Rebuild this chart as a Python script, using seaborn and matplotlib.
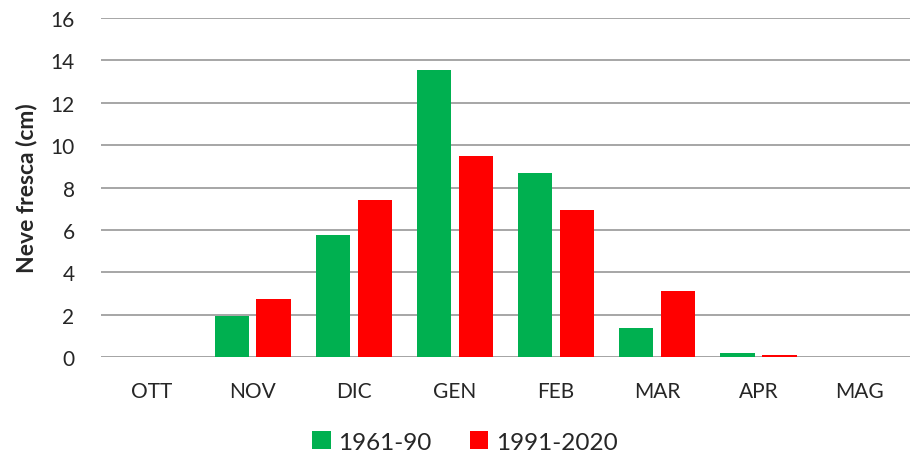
import pandas as pd
import matplotlib.pyplot as plt
import seaborn as sns

months = ["OTT", "NOV", "DIC", "GEN", "FEB", "MAR", "APR", "MAG"]
period_old = [0.0, 1.93, 5.78, 13.55, 8.69, 1.37, 0.20, 0.0]
period_new = [0.0, 2.74, 7.40, 9.51, 6.96, 3.11, 0.09, 0.0]
series_names = ["1961-90", "1991-2020"]
colors = ["#00B050", "#FF0000"]
y_ticks = [0, 2, 4, 6, 8, 10, 12, 14, 16]


def BuildFrame():
    rows = []
    for m, a, b in zip(months, period_old, period_new):
        rows.append({"mese": m, "periodo": series_names[0], "neve": a})
        rows.append({"mese": m, "periodo": series_names[1], "neve": b})
    return pd.DataFrame(rows)


def DrawChart(df):
    sns.set_style("white")
    plt.rcParams["font.family"] = ["Lato", "DejaVu Sans"]

    fig = plt.figure(figsize=(9.1, 4.6), dpi=100)
    ax = fig.add_axes([0.111, 0.221, 0.889, 0.738])

    sns.barplot(data=df, x="mese", y="neve", hue="periodo", order=months,
                hue_order=series_names, palette=colors, width=0.83, gap=0.18,
                saturation=1, linewidth=0, ax=ax, legend=True)

    ax.set_ylim(0, 16)
    ax.set_yticks(y_ticks)
    ax.set_xlim(-0.5, len(months) - 0.5)
    ax.yaxis.grid(True, color="#A6A6A6", linewidth=1.4)
    ax.set_axisbelow(True)
    for s in ax.spines.values():
        s.set_visible(False)
    ax.axhline(0, color="#A6A6A6", linewidth=1.4, zorder=0)

    ax.tick_params(axis="both", length=0, labelsize=15, colors="#262626")
    ax.tick_params(axis="x", pad=17)
    ax.tick_params(axis="y", pad=19)
    ax.set_xlabel("")
    ax.set_ylabel("Neve fresca (cm)", fontsize=16.5, fontweight="bold")
    ax.yaxis.set_label_coords(-0.079, 0.5)

    handles, labels = ax.get_legend_handles_labels()
    ax.get_legend().remove()
    fig.legend(handles, labels, loc="center", bbox_to_anchor=(0.511, 0.037),
               ncol=2, frameon=False, fontsize=17.5, handlelength=0.75,
               handleheight=0.75, handletextpad=0.3, columnspacing=1.6,
               labelcolor="#262626")

    fig.savefig("out.png", dpi=100)


def main():
    df = BuildFrame()
    DrawChart(df)


if __name__ == "__main__":
    main()
